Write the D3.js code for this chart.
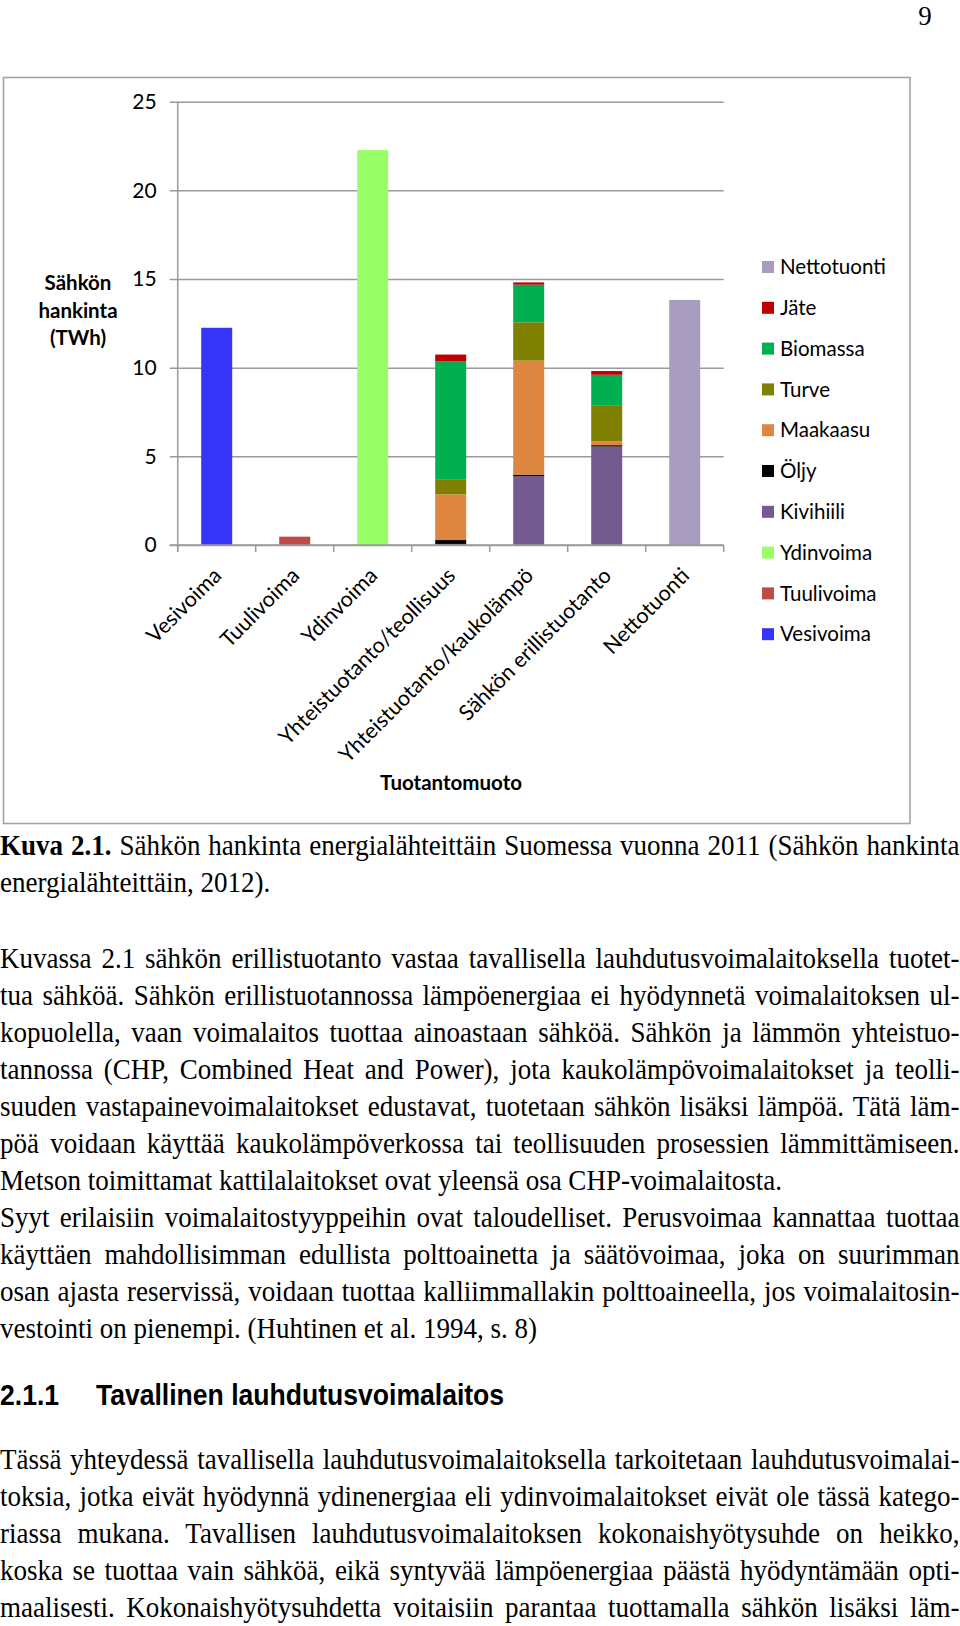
<!DOCTYPE html>
<html>
<head>
<meta charset="utf-8">
<script src="https://cdn.jsdelivr.net/npm/d3@7"></script>
<style>
  body { margin: 0; background: #fff; }
  #page { position: relative; width: 960px; height: 1626px; overflow: hidden; }
  svg text { font-family: Lato, "Open Sans", sans-serif; }
  .txt { position: absolute; left: 0; width: 1066px; transform: scaleX(0.9); transform-origin: 0 0;
         font-family: "Liberation Serif", "Times New Roman", serif; font-size: 30px; line-height: 37px; color: #000; }
  .ln { height: 37px; white-space: nowrap; text-align: justify; text-align-last: justify; }
  .ln.end { text-align-last: left; }
  .hd { font-family: "Liberation Sans", Arial, sans-serif; font-weight: bold; font-size: 29.5px; }
</style>
</head>
<body>
<div id="page">
  <svg id="chart" width="960" height="830"></svg>
</div>
<script>
const categories = ['Vesivoima', 'Tuulivoima', 'Ydinvoima', 'Yhteistuotanto/teollisuus',
  'Yhteistuotanto/kaukolämpö', 'Sähkön erillistuotanto', 'Nettotuonti'];

// TWh per category, bottom to top of the stack
const vesivoima   = [12.25, 0, 0, 0, 0, 0, 0];
const tuulivoima  = [0, 0.47, 0, 0, 0, 0, 0];
const ydinvoima   = [0, 0, 22.27, 0, 0, 0, 0];
const kivihiili   = [0, 0, 0, 0.06, 3.89, 5.55, 0];
const oljy        = [0, 0, 0, 0.22, 0.08, 0.08, 0];
const maakaasu    = [0, 0, 0, 2.58, 6.43, 0.21, 0];
const turve       = [0, 0, 0, 0.85, 2.16, 2.01, 0];
const biomassa    = [0, 0, 0, 6.64, 2.12, 1.75, 0];
const jate        = [0, 0, 0, 0.39, 0.13, 0.21, 0];
const nettotuonti = [0, 0, 0, 0, 0, 0, 13.82];

const seriesNames = ['Vesivoima', 'Tuulivoima', 'Ydinvoima', 'Kivihiili', 'Öljy',
  'Maakaasu', 'Turve', 'Biomassa', 'Jäte', 'Nettotuonti'];
const seriesValues = [vesivoima, tuulivoima, ydinvoima, kivihiili, oljy,
  maakaasu, turve, biomassa, jate, nettotuonti];
const seriesColors = ['#3535f7', '#be4b48', '#99ff66', '#735b8f', '#000000',
  '#df8741', '#808000', '#00b050', '#c00000', '#a99dbf'];
const yTicks = [0, 5, 10, 15, 20, 25];

// text of the page below the chart
const caption = [
  ['<b>Kuva 2.1.</b> Sähkön hankinta energialähteittäin Suomessa vuonna 2011 (Sähkön hankinta', false],
  ['energialähteittäin, 2012).', true]
];
const para1 = [
  ['Kuvassa 2.1 sähkön erillistuotanto vastaa tavallisella lauhdutusvoimalaitoksella tuotet-', false],
  ['tua sähköä. Sähkön erillistuotannossa lämpöenergiaa ei hyödynnetä voimalaitoksen ul-', false],
  ['kopuolella, vaan voimalaitos tuottaa ainoastaan sähköä. Sähkön ja lämmön yhteistuo-', false],
  ['tannossa (CHP, Combined Heat and Power), jota kaukolämpövoimalaitokset ja teolli-', false],
  ['suuden vastapainevoimalaitokset edustavat, tuotetaan sähkön lisäksi lämpöä. Tätä läm-', false],
  ['pöä voidaan käyttää kaukolämpöverkossa tai teollisuuden prosessien lämmittämiseen.', false],
  ['Metson toimittamat kattilalaitokset ovat yleensä osa CHP-voimalaitosta.', true],
  ['Syyt erilaisiin voimalaitostyyppeihin ovat taloudelliset. Perusvoimaa kannattaa tuottaa', false],
  ['käyttäen mahdollisimman edullista polttoainetta ja säätövoimaa, joka on suurimman', false],
  ['osan ajasta reservissä, voidaan tuottaa kalliimmallakin polttoaineella, jos voimalaitosin-', false],
  ['vestointi on pienempi. (Huhtinen et al. 1994, s. 8)', true]
];
const para2 = [
  ['Tässä yhteydessä tavallisella lauhdutusvoimalaitoksella tarkoitetaan lauhdutusvoimalai-', false],
  ['toksia, jotka eivät hyödynnä ydinenergiaa eli ydinvoimalaitokset eivät ole tässä katego-', false],
  ['riassa mukana. Tavallisen lauhdutusvoimalaitoksen kokonaishyötysuhde on heikko,', false],
  ['koska se tuottaa vain sähköä, eikä syntyvää lämpöenergiaa päästä hyödyntämään opti-', false],
  ['maalisesti. Kokonaishyötysuhdetta voitaisiin parantaa tuottamalla sähkön lisäksi läm-', false]
];

const svg = d3.select('#chart');

// page number
svg.append('text')
  .attr('x', 925).attr('y', 25)
  .attr('text-anchor', 'middle')
  .style('font-family', '"Liberation Serif", "Times New Roman", serif')
  .attr('font-size', 27)
  .text('9');

// chart frame
svg.append('rect')
  .attr('x', 3.5).attr('y', 77.5).attr('width', 906.5).attr('height', 746)
  .attr('fill', 'none').attr('stroke', '#a3a3a3').attr('stroke-width', 1.6);

const plot = { left: 177.7, right: 723.7, top: 101.7, bottom: 545 };

const x = d3.scaleBand().domain(categories).range([plot.left, plot.right]);
const y = d3.scaleLinear().domain([0, 25]).range([plot.bottom, plot.top]);
const barW = 31;

// gridlines + y labels
const yAxis = svg.append('g')
  .attr('transform', `translate(${plot.left - 8},0)`)
  .call(d3.axisLeft(y).tickValues(yTicks).tickSize(-(plot.right - plot.left + 8)).tickPadding(13));
yAxis.select('.domain').remove();
yAxis.selectAll('.tick line').attr('stroke', '#9a9a9a').attr('stroke-width', 1.5);
yAxis.selectAll('.tick text').attr('font-size', 21).attr('fill', '#000')
  .attr('font-family', 'Lato, sans-serif');

// y axis line
svg.append('line')
  .attr('x1', plot.left).attr('x2', plot.left)
  .attr('y1', plot.top).attr('y2', plot.bottom + 7)
  .attr('stroke', '#9a9a9a').attr('stroke-width', 1.5);

// stacked bars
const rows = categories.map((c, i) => {
  const r = { cat: c };
  seriesNames.forEach((s, j) => { r[s] = seriesValues[j][i]; });
  return r;
});
const stacked = d3.stack().keys(seriesNames)(rows);
const colorOf = d3.scaleOrdinal().domain(seriesNames).range(seriesColors);

svg.append('g')
  .selectAll('g')
  .data(stacked)
  .join('g')
  .attr('fill', d => colorOf(d.key))
  .selectAll('rect')
  .data(d => d.filter(p => p[1] - p[0] > 0))
  .join('rect')
  .attr('x', d => x(d.data.cat) + (x.bandwidth() - barW) / 2)
  .attr('width', barW)
  .attr('y', d => y(d[1]))
  .attr('height', d => y(d[0]) - y(d[1]));

// x axis line with boundary ticks
svg.append('line')
  .attr('x1', plot.left - 8).attr('x2', plot.right)
  .attr('y1', plot.bottom).attr('y2', plot.bottom)
  .attr('stroke', '#9a9a9a').attr('stroke-width', 1.5);
svg.append('g')
  .selectAll('line')
  .data(categories.map(c => x(c)).concat([plot.right]))
  .join('line')
  .attr('x1', d => d).attr('x2', d => d)
  .attr('y1', plot.bottom).attr('y2', plot.bottom + 7)
  .attr('stroke', '#9a9a9a').attr('stroke-width', 1.5);

// rotated category labels
svg.append('g')
  .selectAll('text')
  .data(categories)
  .join('text')
  .attr('transform', d => `translate(${x(d) + x.bandwidth() / 2 + 6},577) rotate(-45)`)
  .attr('text-anchor', 'end')
  .attr('font-size', 21.5)
  .attr('fill', '#000')
  .text(d => d);

// axis titles
svg.append('text')
  .attr('x', 451).attr('y', 790)
  .attr('text-anchor', 'middle').attr('font-size', 20.5).attr('font-weight', 'bold')
  .text('Tuotantomuoto');

svg.append('text')
  .attr('text-anchor', 'middle').attr('font-size', 20.5).attr('font-weight', 'bold')
  .selectAll('tspan')
  .data(['Sähkön', 'hankinta', '(TWh)'])
  .join('tspan')
  .attr('x', 78)
  .attr('y', (d, i) => 290 + i * 27.5)
  .text(d => d);

// legend (reverse of stacking order)
const legend = svg.append('g')
  .selectAll('g')
  .data(seriesNames.slice().reverse())
  .join('g')
  .attr('transform', (d, i) => `translate(762,${267 + i * 40.8})`);
legend.append('rect')
  .attr('x', 0).attr('y', -6).attr('width', 12).attr('height', 12)
  .attr('fill', d => colorOf(d));
legend.append('text')
  .attr('x', 18).attr('dy', '0.35em')
  .attr('font-size', 20.5).attr('fill', '#000')
  .text(d => d);

// page text
const page = d3.select('#page');

function block(top, lines) {
  page.append('div').attr('class', 'txt').style('top', top + 'px')
    .selectAll('div')
    .data(lines)
    .join('div')
    .attr('class', d => d[1] ? 'ln end' : 'ln')
    .html(d => d[0]);
}
block(826.4, caption);
block(939.4, para1);
page.append('div').attr('class', 'txt hd').style('top', '1376px')
  .html('2.1.1&nbsp;&nbsp;&nbsp;&nbsp;&nbsp;Tavallinen lauhdutusvoimalaitos');
block(1440.4, para2);
</script>
</body>
</html>
